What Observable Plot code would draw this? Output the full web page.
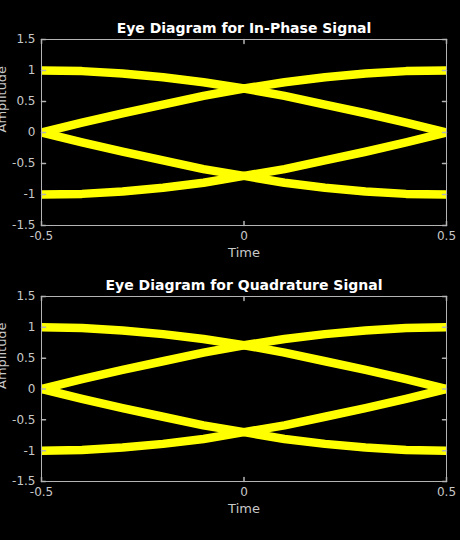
<!DOCTYPE html>
<html><head><meta charset="utf-8">
<script src="https://cdn.jsdelivr.net/npm/d3@7"></script>
<script src="https://cdn.jsdelivr.net/npm/@observablehq/plot@0.6"></script>
<style>
html,body{margin:0;padding:0;background:#000;}
#chart{width:460px;height:540px;overflow:hidden;}
#chart svg{display:block;}
</style>
</head><body><div id="chart"></div>
<script>
// Sample times (one symbol period)
const time = [-0.5, -0.4, -0.3, -0.2, -0.1, 0, 0.1, 0.2, 0.3, 0.4, 0.5];

// In-phase eye traces
const inPhaseHighToZero = [1.00, 0.99, 0.95, 0.89, 0.81, 0.71, 0.59, 0.45, 0.31, 0.16, 0.00];
const inPhaseZeroToHigh = [0.00, 0.16, 0.31, 0.45, 0.59, 0.71, 0.81, 0.89, 0.95, 0.99, 1.00];
const inPhaseZeroToLow  = [0.00, -0.16, -0.31, -0.45, -0.59, -0.70, -0.81, -0.89, -0.95, -0.99, -1.00];
const inPhaseLowToZero  = [-1.00, -0.99, -0.95, -0.89, -0.81, -0.70, -0.59, -0.45, -0.31, -0.16, 0.00];

// Quadrature eye traces
const quadHighToZero = [1.00, 0.99, 0.95, 0.89, 0.81, 0.71, 0.59, 0.45, 0.31, 0.16, 0.00];
const quadZeroToHigh = [0.00, 0.16, 0.31, 0.45, 0.59, 0.71, 0.81, 0.89, 0.95, 0.99, 1.00];
const quadZeroToLow  = [0.00, -0.16, -0.31, -0.45, -0.59, -0.70, -0.81, -0.89, -0.95, -0.99, -1.00];
const quadLowToZero  = [-1.00, -0.99, -0.95, -0.89, -0.81, -0.70, -0.59, -0.45, -0.31, -0.16, 0.00];

// Ticks and labels
const xTicks = [-0.5, 0, 0.5];
const xTickLabels = ["-0.5", "0", "0.5"];
const yTicks = [-1.5, -1, -0.5, 0, 0.5, 1, 1.5];
const yTickLabels = ["-1.5", "-1", "-0.5", "0", "0.5", "1", "1.5"];
const titles = ["Eye Diagram for In-Phase Signal", "Eye Diagram for Quadrature Signal"];
const xLabel = "Time";
const yLabel = "Amplitude";

const traceColor = "#ffff00";
const axisColor = "#b4b4b4";
const textColor = "#c8c8c8";
const tickShape = {draw(context, l) { context.moveTo(0, 0); context.lineTo(0, -l); }};

function eyePlot(title, traces, height, marginTop, marginBottom) {
  const rows = traces.flatMap((vals, k) => vals.map((v, i) => ({t: time[i], v, k})));
  return Plot.plot({
    width: 460, height, marginLeft: 41, marginRight: 14, marginTop, marginBottom,
    style: {background: "#000", color: textColor, fontFamily: "DejaVu Sans", fontSize: "12px"},
    x: {domain: [-0.5, 0.5]},
    y: {domain: [-1.5, 1.5]},
    marks: [
      Plot.line(rows, {x: "t", y: "v", z: "k", stroke: traceColor, strokeWidth: 8.5, clip: true}),
      Plot.frame({stroke: axisColor, strokeWidth: 1}),
      Plot.vectorX(xTicks, {x: d => d, frameAnchor: "bottom", anchor: "start", length: 4, rotate: 0, shape: tickShape, stroke: axisColor}),
      Plot.vectorX(xTicks, {x: d => d, frameAnchor: "top", anchor: "start", length: 4, rotate: 180, shape: tickShape, stroke: axisColor}),
      Plot.vectorY(yTicks, {y: d => d, frameAnchor: "left", anchor: "start", length: 4, rotate: 90, shape: tickShape, stroke: axisColor}),
      Plot.vectorY(yTicks, {y: d => d, frameAnchor: "right", anchor: "start", length: 4, rotate: 270, shape: tickShape, stroke: axisColor}),
      Plot.axisX({ticks: xTicks, tickSize: 0, tickPadding: 6, tickFormat: d => xTickLabels[xTicks.indexOf(d)], label: null, fill: textColor, fontSize: 12}),
      Plot.axisY({ticks: yTicks, tickSize: 0, tickPadding: 6, tickFormat: d => yTickLabels[yTicks.indexOf(d)], label: null, fill: textColor, fontSize: 12}),
      Plot.text([xLabel], {text: d => d, frameAnchor: "bottom", lineAnchor: "middle", dy: 27, fontSize: 13, fill: textColor}),
      Plot.text([yLabel], {text: d => d, frameAnchor: "left", lineAnchor: "middle", dx: -40, rotate: -90, fontSize: 13, fill: textColor}),
      Plot.text([title], {text: d => d, frameAnchor: "top", lineAnchor: "middle", dy: -11, fontSize: 14, fontWeight: "bold", fill: "#ffffff"})
    ]
  });
}

const chart = document.getElementById("chart");
chart.append(eyePlot(titles[0], [inPhaseHighToZero, inPhaseZeroToHigh, inPhaseZeroToLow, inPhaseLowToZero], 270, 39, 45));
chart.append(eyePlot(titles[1], [quadHighToZero, quadZeroToHigh, quadZeroToLow, quadLowToZero], 270, 26, 59));
</script>
</body></html>
